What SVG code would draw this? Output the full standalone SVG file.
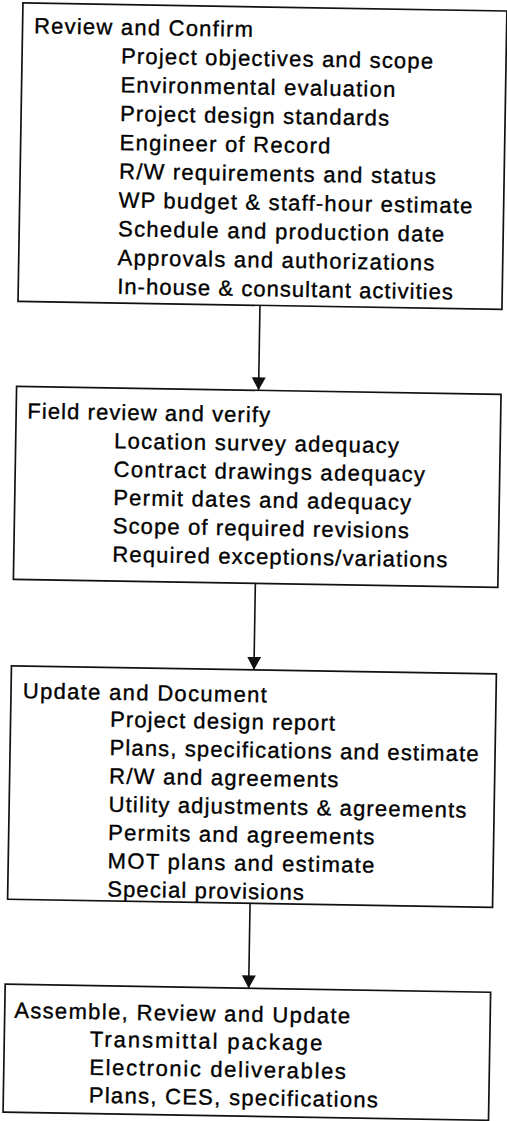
<svg xmlns="http://www.w3.org/2000/svg" width="507" height="1121" viewBox="0 0 507 1121">
  <style>
    .box { fill: #ffffff; stroke: #111111; stroke-width: 1.7; }
    .t { font-family: "Liberation Sans", Arial, Helvetica, sans-serif; font-size: 22px; fill: #000000; stroke: #000000; stroke-width: 0.35; }
    .conn { stroke: #111111; stroke-width: 1.6; fill: none; }
  </style>
  <defs>
    <marker id="arrow" markerUnits="userSpaceOnUse" markerWidth="14" markerHeight="15" refX="13" refY="7" orient="auto">
      <path d="M0,0 L13,7 L0,14 z" fill="#111111"/>
    </marker>
  </defs>
  <rect width="507" height="1121" fill="#ffffff"/>
  <g transform="rotate(0.95)">
    <g id="node-review-confirm">
      <rect class="box" x="23" y="2.6" width="484" height="298.4"/>
      <text class="t" x="34.5" y="32.7" textLength="219" lengthAdjust="spacing">Review and Confirm</text>
      <text class="t" x="122" y="61.5" textLength="312" lengthAdjust="spacing">Project objectives and scope</text>
      <text class="t" x="122" y="90.3" textLength="274.7" lengthAdjust="spacing">Environmental evaluation</text>
      <text class="t" x="122" y="119.1" textLength="269" lengthAdjust="spacing">Project design standards</text>
      <text class="t" x="122" y="147.9" textLength="210.7" lengthAdjust="spacing">Engineer of Record</text>
      <text class="t" x="122" y="176.7" textLength="316.7" lengthAdjust="spacing">R/W requirements and status</text>
      <text class="t" x="122" y="205.5" textLength="353.7" lengthAdjust="spacing">WP budget &amp; staff-hour estimate</text>
      <text class="t" x="122" y="234.3" textLength="326" lengthAdjust="spacing">Schedule and production date</text>
      <text class="t" x="122" y="263.1" textLength="316.7" lengthAdjust="spacing">Approvals and authorizations</text>
      <text class="t" x="122" y="291.9" textLength="335.7" lengthAdjust="spacing">In-house &amp; consultant activities</text>
    </g>
    <g id="node-field-review">
      <rect class="box" x="23" y="386" width="484.5" height="193"/>
      <text class="t" x="34.2" y="417.9" textLength="242.7" lengthAdjust="spacing">Field review and verify</text>
      <text class="t" x="121.5" y="446.4" textLength="284.7" lengthAdjust="spacing">Location survey adequacy</text>
      <text class="t" x="121.5" y="474.8" textLength="311.3" lengthAdjust="spacing">Contract drawings adequacy</text>
      <text class="t" x="121.5" y="503.1" textLength="298" lengthAdjust="spacing">Permit dates and adequacy</text>
      <text class="t" x="121.5" y="531.4" textLength="296" lengthAdjust="spacing">Scope of required revisions</text>
      <text class="t" x="121.5" y="559.8" textLength="335" lengthAdjust="spacing">Required exceptions/variations</text>
    </g>
    <g id="node-update-document">
      <rect class="box" x="22.5" y="665.5" width="485" height="233.5"/>
      <text class="t" x="34.3" y="697.9" textLength="244" lengthAdjust="spacing">Update and Document</text>
      <text class="t" x="122" y="724.9" textLength="225" lengthAdjust="spacing">Project design report</text>
      <text class="t" x="122" y="753.2" textLength="369" lengthAdjust="spacing">Plans, specifications and estimate</text>
      <text class="t" x="122" y="781.5" textLength="229.3" lengthAdjust="spacing">R/W and agreements</text>
      <text class="t" x="122" y="809.8" textLength="357.7" lengthAdjust="spacing">Utility adjustments &amp; agreements</text>
      <text class="t" x="122" y="838.1" textLength="266.3" lengthAdjust="spacing">Permits and agreements</text>
      <text class="t" x="122" y="866.4" textLength="266.7" lengthAdjust="spacing">MOT plans and estimate</text>
      <text class="t" x="122" y="894.7" textLength="196.7" lengthAdjust="spacing">Special provisions</text>
    </g>
    <g id="node-assemble">
      <rect class="box" x="21.5" y="984" width="485.5" height="128"/>
      <text class="t" x="31" y="1017.5" textLength="336" lengthAdjust="spacing">Assemble, Review and Update</text>
      <text class="t" x="107" y="1045" textLength="232.7" lengthAdjust="spacing">Transmittal package</text>
      <text class="t" x="107" y="1073" textLength="256.7" lengthAdjust="spacing">Electronic deliverables</text>
      <text class="t" x="107" y="1101" textLength="289" lengthAdjust="spacing">Plans, CES, specifications</text>
    </g>
    <g id="connectors">
      <line class="conn" x1="265" y1="301" x2="265" y2="386" marker-end="url(#arrow)"/>
      <line class="conn" x1="265" y1="579" x2="265" y2="665.5" marker-end="url(#arrow)"/>
      <line class="conn" x1="265" y1="899" x2="265" y2="984" marker-end="url(#arrow)"/>
    </g>
  </g>
</svg>
